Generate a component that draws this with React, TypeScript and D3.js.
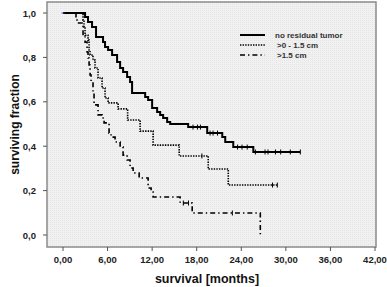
import React from "react";
import * as d3 from "d3";

// ---- data ----
const xTicks = [0, 6, 12, 18, 24, 30, 36, 42];
const yTicks = [0, 0.2, 0.4, 0.6, 0.8, 1.0];
const seriesNames = ["no residual tumor", ">0 - 1.5 cm", ">1.5 cm"];

// [month, survival after step]
const noResidualSteps: [number, number][] = [
  [2.97, 0.982], [3.37, 0.959], [3.91, 0.937], [4.45, 0.892], [5.39, 0.869],
  [5.66, 0.847], [6.07, 0.833], [6.61, 0.811], [7.28, 0.779], [7.69, 0.752],
  [8.09, 0.734], [8.63, 0.712], [9.03, 0.689], [9.3, 0.64], [11.06, 0.622],
  [11.46, 0.608], [12.0, 0.572], [12.67, 0.554], [13.08, 0.541], [13.48, 0.527],
  [14.02, 0.509], [14.43, 0.5], [16.85, 0.486], [19.41, 0.459], [21.44, 0.441],
  [21.84, 0.419], [22.92, 0.396], [25.62, 0.374],
];
const noResidualEnd = 31.95;
const noResidualCensors = [17.5, 18.1, 18.5, 19.8, 20.2, 20.8, 23.5, 24.1, 24.8, 25.9, 27.2, 27.6, 28.6, 29.3, 30.6, 31.95];

const smallResidualSteps: [number, number][] = [
  [2.7, 0.968], [2.83, 0.937], [2.97, 0.9], [3.37, 0.878], [3.51, 0.833],
  [3.64, 0.811], [4.04, 0.788], [4.31, 0.752], [4.72, 0.707], [5.26, 0.662],
  [5.66, 0.617], [6.07, 0.595], [7.42, 0.568], [8.7, 0.518], [10.38, 0.468],
  [12.13, 0.405], [15.64, 0.356], [19.55, 0.297], [22.25, 0.225],
];
const smallResidualEnd = 28.85;
const smallResidualCensors = [18.7, 28.2, 28.85];

const largeResidualSteps: [number, number][] = [
  [1.75, 0.977], [1.89, 0.955], [2.7, 0.9], [2.97, 0.869], [3.24, 0.824],
  [3.37, 0.797], [3.51, 0.766], [3.64, 0.721], [3.78, 0.689], [4.04, 0.644],
  [4.18, 0.586], [4.72, 0.541], [5.26, 0.527], [5.53, 0.505], [6.2, 0.459],
  [6.47, 0.441], [7.01, 0.419], [7.69, 0.396], [8.09, 0.36], [8.63, 0.338],
  [9.03, 0.302], [9.44, 0.279], [10.25, 0.257], [11.46, 0.212], [11.86, 0.194],
  [12.13, 0.171], [15.77, 0.144], [17.39, 0.099], [26.56, 0.0],
];
const largeResidualEnd = 26.56;
const largeResidualCensors = [16.2, 16.9, 22.8];

const series = [
  { name: seriesNames[0], steps: noResidualSteps, end: noResidualEnd, censors: noResidualCensors, width: 2, dash: "" },
  { name: seriesNames[1], steps: smallResidualSteps, end: smallResidualEnd, censors: smallResidualCensors, width: 1.6, dash: "1.4 1.2" },
  { name: seriesNames[2], steps: largeResidualSteps, end: largeResidualEnd, censors: largeResidualCensors, width: 1.6, dash: "5 3 1.4 3" },
];

const fmt = (v: number, d: number) => v.toFixed(d).replace(".", ",");

export default function App() {
  const W = 387, H = 287;
  const frame = { left: 47, right: 376, top: 2, bottom: 247 };
  const x = d3.scaleLinear().domain([0, 42]).range([63, 375]);
  const y = d3.scaleLinear().domain([0, 1]).range([235, 13]);

  const survAt = (steps: [number, number][], t: number) => {
    let s = 1;
    for (const [tt, ss] of steps) if (tt <= t) s = ss;
    return s;
  };

  const pathFor = (steps: [number, number][], end: number) => {
    const p = d3.path();
    p.moveTo(x(0), y(1));
    let cur = 1;
    for (const [t, s] of steps) {
      p.lineTo(x(t), y(cur));
      p.lineTo(x(t), y(s));
      cur = s;
    }
    p.lineTo(x(end), y(cur));
    return p.toString();
  };

  const font = "'Liberation Sans', Arial, sans-serif";

  return (
    <svg width={W} height={H} style={{ position: "absolute", left: 0, top: 0, background: "#fff" }} fontFamily={font}>
      <defs>
        <pattern id="dots" width="2" height="2" patternUnits="userSpaceOnUse">
          <rect width="2" height="2" fill="#f1f1f1" />
          <rect width="1" height="1" fill="#e6e6e6" />
        </pattern>
      </defs>
      <rect x={frame.left} y={frame.top} width={frame.right - frame.left} height={frame.bottom - frame.top}
        fill="url(#dots)" stroke="#8a8a8a" strokeWidth={1.5} />
      {/* y ticks */}
      {yTicks.map((v) => (
        <g key={"y" + v}>
          <line x1={frame.left - 4} x2={frame.left} y1={y(v)} y2={y(v)} stroke="#555" strokeWidth={1} />
          <text x={36} y={y(v) + 3.5} textAnchor="end" fontSize={9.5} fontWeight="bold" fill="#222">{fmt(v, 1)}</text>
        </g>
      ))}
      {/* x ticks */}
      {xTicks.map((v) => (
        <g key={"x" + v}>
          <line x1={x(v)} x2={x(v)} y1={frame.bottom} y2={frame.bottom + 4} stroke="#555" strokeWidth={1} />
          <text x={x(v)} y={263} textAnchor="middle" fontSize={9.5} fontWeight="bold" fill="#222">{fmt(v, 2)}</text>
        </g>
      ))}
      <text x={207} y={283} textAnchor="middle" fontSize={12.5} fontWeight="bold" fill="#111">survival [months]</text>
      <text transform={`translate(19,${(frame.top + frame.bottom) / 2}) rotate(-90)`} textAnchor="middle" fontSize={12} fontWeight="bold" fill="#111">surviving fraction</text>
      {/* curves */}
      {series.map((s) => (
        <g key={s.name}>
          <path d={pathFor(s.steps, s.end)} fill="none" stroke="#000" strokeWidth={s.width} strokeDasharray={s.dash || undefined} />
          {s.censors.map((c, i) => (
            <line key={i} x1={x(c)} x2={x(c)} y1={y(survAt(s.steps, c)) - 2.5} y2={y(survAt(s.steps, c)) + 2.5} stroke="#000" strokeWidth={1} />
          ))}
        </g>
      ))}
      <line x1={x(0) - 1.5} x2={x(0) + 1.5} y1={y(1)} y2={y(1)} stroke="#3355cc" strokeWidth={1} />
      {/* legend */}
      {series.map((s, i) => (
        <g key={"leg" + i}>
          <line x1={240} x2={265} y1={35 + i * 10} y2={35 + i * 10} stroke="#000" strokeWidth={s.width} strokeDasharray={s.dash || undefined} />
          <text x={i === 0 ? 275 : 277} y={38 + i * 10} fontSize={8} fontWeight="bold" fill="#333">{s.name}</text>
        </g>
      ))}
    </svg>
  );
}
